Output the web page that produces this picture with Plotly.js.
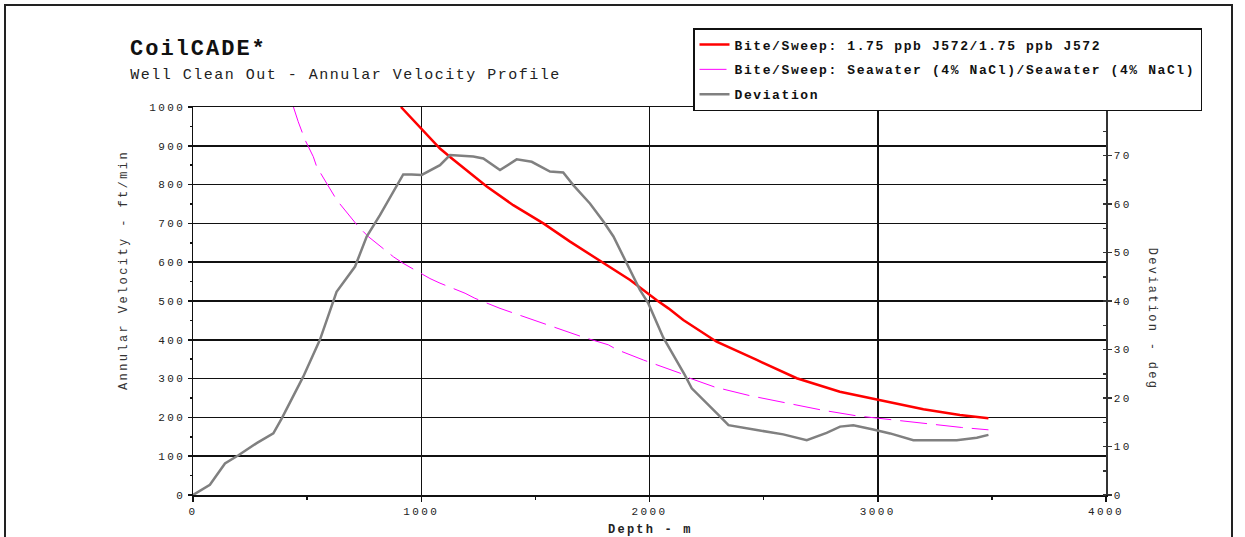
<!DOCTYPE html>
<html>
<head>
<meta charset="utf-8">
<script src="https://cdn.plot.ly/plotly-3.0.1.min.js"></script>
<style>
  html, body { margin: 0; padding: 0; background: #fff; }
  #chart { width: 1245px; height: 537px; }
  .xtick text, .ytick text, .y2tick text { letter-spacing: 2.4px; }
  .legendtext { letter-spacing: 1.6px; }
  g.annotation[data-index="0"] text { letter-spacing: 2px; }
  g.annotation[data-index="1"] text { letter-spacing: 1.5px; }
  g.annotation[data-index="2"] text { letter-spacing: 2.4px; }
  g.annotation[data-index="3"] text { letter-spacing: 2.3px; }
  g.annotation[data-index="4"] text { letter-spacing: 2.2px; }
</style>
</head>
<body>
<div id="chart"></div>
<script>
// ---- data ----
const chartTitle = "CoilCADE*";
const chartSubtitle = "Well Clean Out - Annular Velocity Profile";
const xTitle = "Depth - m";
const yTitle = "Annular Velocity - ft/min";
const y2Title = "Deviation - deg";

const nameJ572 = "Bite/Sweep: 1.75 ppb J572/1.75 ppb J572";
const depthJ572 = [911,1003,1082,1133,1287,1403,1535,1652,1790,1915,2032,2083,2148,2294,2470,2645,2834,2998,3200,3360,3485];
const velJ572   = [1000,941,893,868,795,747,700,653,601,554,502,481,451,395,348,301,266,245,221,206,198];

const nameSea = "Bite/Sweep: Seawater (4% NaCl)/Seawater (4% NaCl)";
const depthSea = [440,461,491,527,542,608,630,724,768,878,921,1038,1082,1192,1235,1345,1389,1506,1550,1659,1703,1820,1856,1973,2017,2134,2177,2287,2440,2594,2754,2908,3068,3214,3368,3485];
const velSea   = [1000,962,915,872,846,782,760,692,666,614,597,558,546,520,507,481,472,449,441,417,408,387,375,348,339,314,301,278,256,238,219,204,193,183,174,168];

const nameDev = "Deviation";
const depthDev = [0,74,140,199,279,352,389,483,556,629,710,761,819,900,921,958,1002,1082,1126,1228,1272,1345,1418,1484,1564,1622,1666,1739,1798,1842,1900,1958,1995,2060,2155,2185,2302,2346,2470,2586,2689,2776,2835,2893,2980,3054,3156,3346,3434,3485];
const devDeg   = [0,2.1,6.5,8.2,10.7,12.7,15.8,24.4,32,41.9,47.1,53.3,57.7,64.6,66.1,66.1,66,68,70.1,69.8,69.4,67,69.2,68.7,66.7,66.5,63.9,60.1,56.4,53.3,47.8,42.3,39.5,32.5,24.7,22,16.5,14.4,13.4,12.5,11.3,12.8,14.1,14.4,13.5,12.7,11.3,11.3,11.8,12.4];

// ---- layout geometry (pixels) ----
const W = 1245, H = 537;
const M = {l: 193, r: 139, t: 107, b: 42};
const PW = W - M.l - M.r, PH = H - M.t - M.b;
const px = v => (v - M.l) / PW;            // pixel x -> paper
const py = v => (H - M.b - v) / PH;        // pixel y -> paper
// letter-spacing is not included in Plotly's text measurement: compensate left-anchored texts
const spacingShift = (txt, sp) => txt.length * sp / 2;

const FONT = "Liberation Mono, Courier New, monospace";

const traces = [
  {x: depthJ572, y: velJ572, name: nameJ572, type: "scatter", mode: "lines",
   line: {color: "#ff0000", width: 2.5}, legendgroup: "a", yaxis: "y"},
  {x: depthSea, y: velSea, name: nameSea, type: "scatter", mode: "lines",
   line: {color: "#ff00ff", width: 1, dash: "27px,9px"}, legendgroup: "b", yaxis: "y"},
  {x: depthDev, y: devDeg, name: nameDev, type: "scatter", mode: "lines",
   line: {color: "#808080", width: 2.5}, legendgroup: "c", yaxis: "y2"}
];

const tickFont = {family: FONT, size: 11, color: "#222"};

const layout = {
  width: W, height: H,
  margin: M,
  paper_bgcolor: "#fff", plot_bgcolor: "#fff",
  showlegend: true,
  legend: {
    x: px(693), y: py(28), xanchor: "left", yanchor: "top",
    bgcolor: "#fff", bordercolor: "#111", borderwidth: 1.5,
    font: {family: FONT, size: 13, color: "#111", weight: "bold"},
    traceorder: "grouped", tracegroupgap: 5
  },
  xaxis: {
    range: [0, 4000], dtick: 1000, tick0: 0,
    showline: true, linecolor: "#111", linewidth: 1.5, mirror: true,
    showgrid: true, gridcolor: "#111", gridwidth: 1.5, zeroline: false,
    ticks: "outside", ticklen: 5, tickcolor: "#111", tickwidth: 1.5,
    minor: {dtick: 500, ticks: "outside", ticklen: 3, tickcolor: "#111", showgrid: false},
    tickfont: tickFont
  },
  yaxis: {
    range: [0, 1000], dtick: 100, tick0: 0,
    showline: true, linecolor: "#111", linewidth: 1.5,
    showgrid: true, gridcolor: "#111", gridwidth: 1.5, zeroline: false,
    ticks: "outside", ticklen: 4, tickcolor: "#111", tickwidth: 1.5,
    minor: {dtick: 50, ticks: "outside", ticklen: 2, tickcolor: "#111", showgrid: false},
    tickfont: tickFont
  },
  yaxis2: {
    range: [0, 80], dtick: 10, tick0: 0,
    overlaying: "y", side: "right",
    showline: true, linecolor: "#333", linewidth: 1.5,
    showgrid: false, zeroline: false,
    ticks: "outside", ticklen: 4, tickcolor: "#333", tickwidth: 1.5,
    minor: {dtick: 5, ticks: "inside", ticklen: 3, tickcolor: "#333", showgrid: false},
    tickfont: tickFont
  },
  annotations: [
    {text: chartTitle, xref: "paper", yref: "paper", x: px(128 + spacingShift(chartTitle, 2)), y: py(49),
     xanchor: "left", yanchor: "middle", showarrow: false,
     font: {family: FONT, size: 22, color: "#111", weight: "bold"}},
    {text: chartSubtitle, xref: "paper", yref: "paper", x: px(128 + spacingShift(chartSubtitle, 1.5)), y: py(75),
     xanchor: "left", yanchor: "middle", showarrow: false,
     font: {family: FONT, size: 15, color: "#222"}},
    {text: yTitle, xref: "paper", yref: "paper", x: px(124), y: py(270),
     xanchor: "center", yanchor: "middle", showarrow: false, textangle: -90,
     font: {family: FONT, size: 12, color: "#333"}},
    {text: y2Title, xref: "paper", yref: "paper", x: px(1152), y: py(319),
     xanchor: "center", yanchor: "middle", showarrow: false, textangle: 90,
     font: {family: FONT, size: 12, color: "#333"}},
    {text: xTitle, xref: "paper", yref: "paper", x: px(650), y: py(530),
     xanchor: "center", yanchor: "middle", showarrow: false,
     font: {family: FONT, size: 12, color: "#222", weight: "bold"}}
  ],
  shapes: [
    {type: "rect", xref: "paper", yref: "paper",
     x0: px(5), x1: px(1232), y0: py(560), y1: py(5),
     line: {color: "#222", width: 2}, fillcolor: "rgba(0,0,0,0)", layer: "below"}
  ]
};

Plotly.newPlot("chart", traces, layout, {staticPlot: true, displayModeBar: false});
</script>
</body>
</html>
